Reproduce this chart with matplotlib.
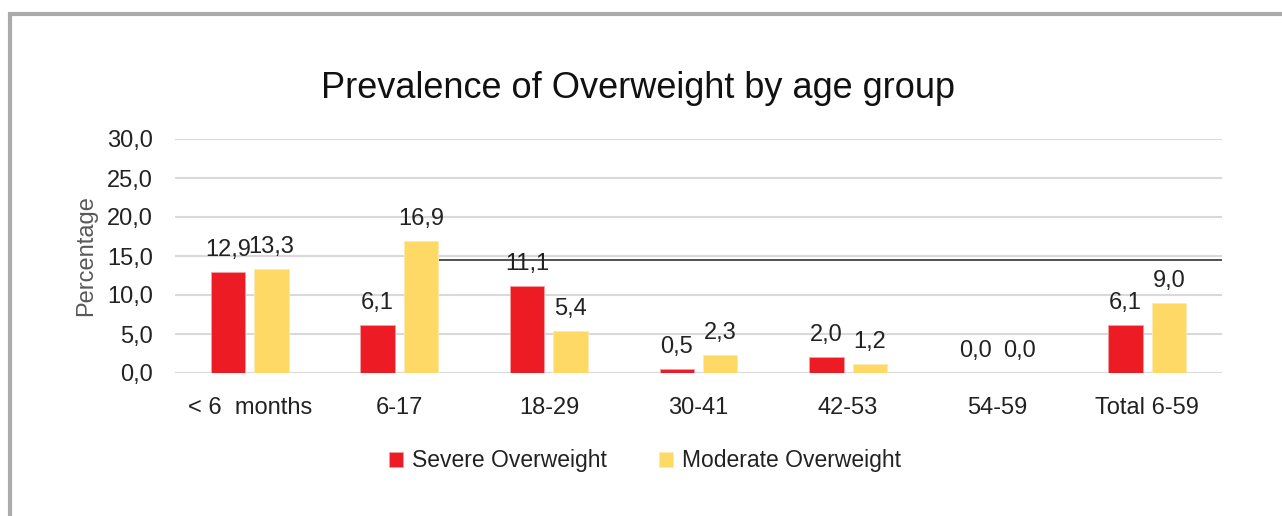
import matplotlib.pyplot as plt
import numpy as np
from matplotlib.ticker import FuncFormatter
from matplotlib.patches import Rectangle

plt.rcParams['font.family'] = ['Liberation Sans', 'DejaVu Sans']

age_groups = ['< 6  months', '6-17', '18-29', '30-41', '42-53', '54-59', 'Total 6-59']
severe = [12.9, 6.1, 11.1, 0.5, 2.0, 0.0, 6.1]
moderate = [13.3, 16.9, 5.4, 2.3, 1.2, 0.0, 9.0]
ref_level = 14.5

red = '#ED1C24'
yellow = '#FFD966'

fig = plt.figure(figsize=(12.82, 5.16), dpi=100)
ax = fig.add_axes([175 / 1282, 1 - 373 / 516, (1222 - 175) / 1282, (373 - 139) / 516])

# outer frame
fig.patches.append(Rectangle((10 / 1282, -0.1), 1.2, 1 - 14 / 516 + 0.1,
                             transform=fig.transFigure, fill=False,
                             edgecolor='#ababab', linewidth=3))

x = np.arange(len(age_groups))
w = 0.23
off = 0.145
b1 = ax.bar(x - off, severe, w, color=red, edgecolor='#f4a0a0', linewidth=0.6,
            label='Severe Overweight', zorder=3)
b2 = ax.bar(x + off, moderate, w, color=yellow, edgecolor='#fde9b0', linewidth=0.6,
            label='Moderate Overweight', zorder=3)

fmt = lambda v: f'{v:.1f}'.replace('.', ',')
for bars, vals in ((b1, severe), (b2, moderate)):
    for rect, v in zip(bars, vals):
        ax.annotate(fmt(v), (rect.get_x() + rect.get_width() / 2, v),
                    xytext=(0, 8), textcoords='offset points',
                    ha='center', va='bottom', fontsize=17, color='#222222')

# reference line
ax.plot([x[1] + off + w / 2, len(age_groups) - 0.5], [ref_level, ref_level],
        color='#333333', linewidth=1.2, zorder=2)

ax.set_xlim(-0.5, len(age_groups) - 0.5)
ax.set_ylim(0, 30)
ax.set_yticks(np.arange(0, 31, 5))
ax.yaxis.set_major_formatter(FuncFormatter(lambda v, p: fmt(v)))
ax.set_xticks(x)
ax.set_xticklabels(age_groups)
ax.tick_params(length=0, labelsize=17, colors='#222222')
ax.tick_params(axis='y', pad=16)
ax.tick_params(axis='x', pad=17)
ax.grid(axis='y', color='#d9d9d9', linewidth=1.5, zorder=0)
ax.set_axisbelow(True)
for s in ax.spines.values():
    s.set_visible(False)

ax.set_ylabel('Percentage', fontsize=17, color='#595959', labelpad=7)

fig.text(638 / 1282, 1 - 88 / 516, 'Prevalence of Overweight by age group',
         ha='center', va='center', fontsize=26, color='#111111')

fig.legend(handles=[b1, b2], loc='center', bbox_to_anchor=(645 / 1282, 1 - 461 / 516),
           ncol=2, frameon=False, fontsize=16.5, handlelength=0.6, handleheight=0.6,
           handletextpad=0.4, columnspacing=2.3, labelcolor='#222222')

fig.savefig('out.png', dpi=100)
